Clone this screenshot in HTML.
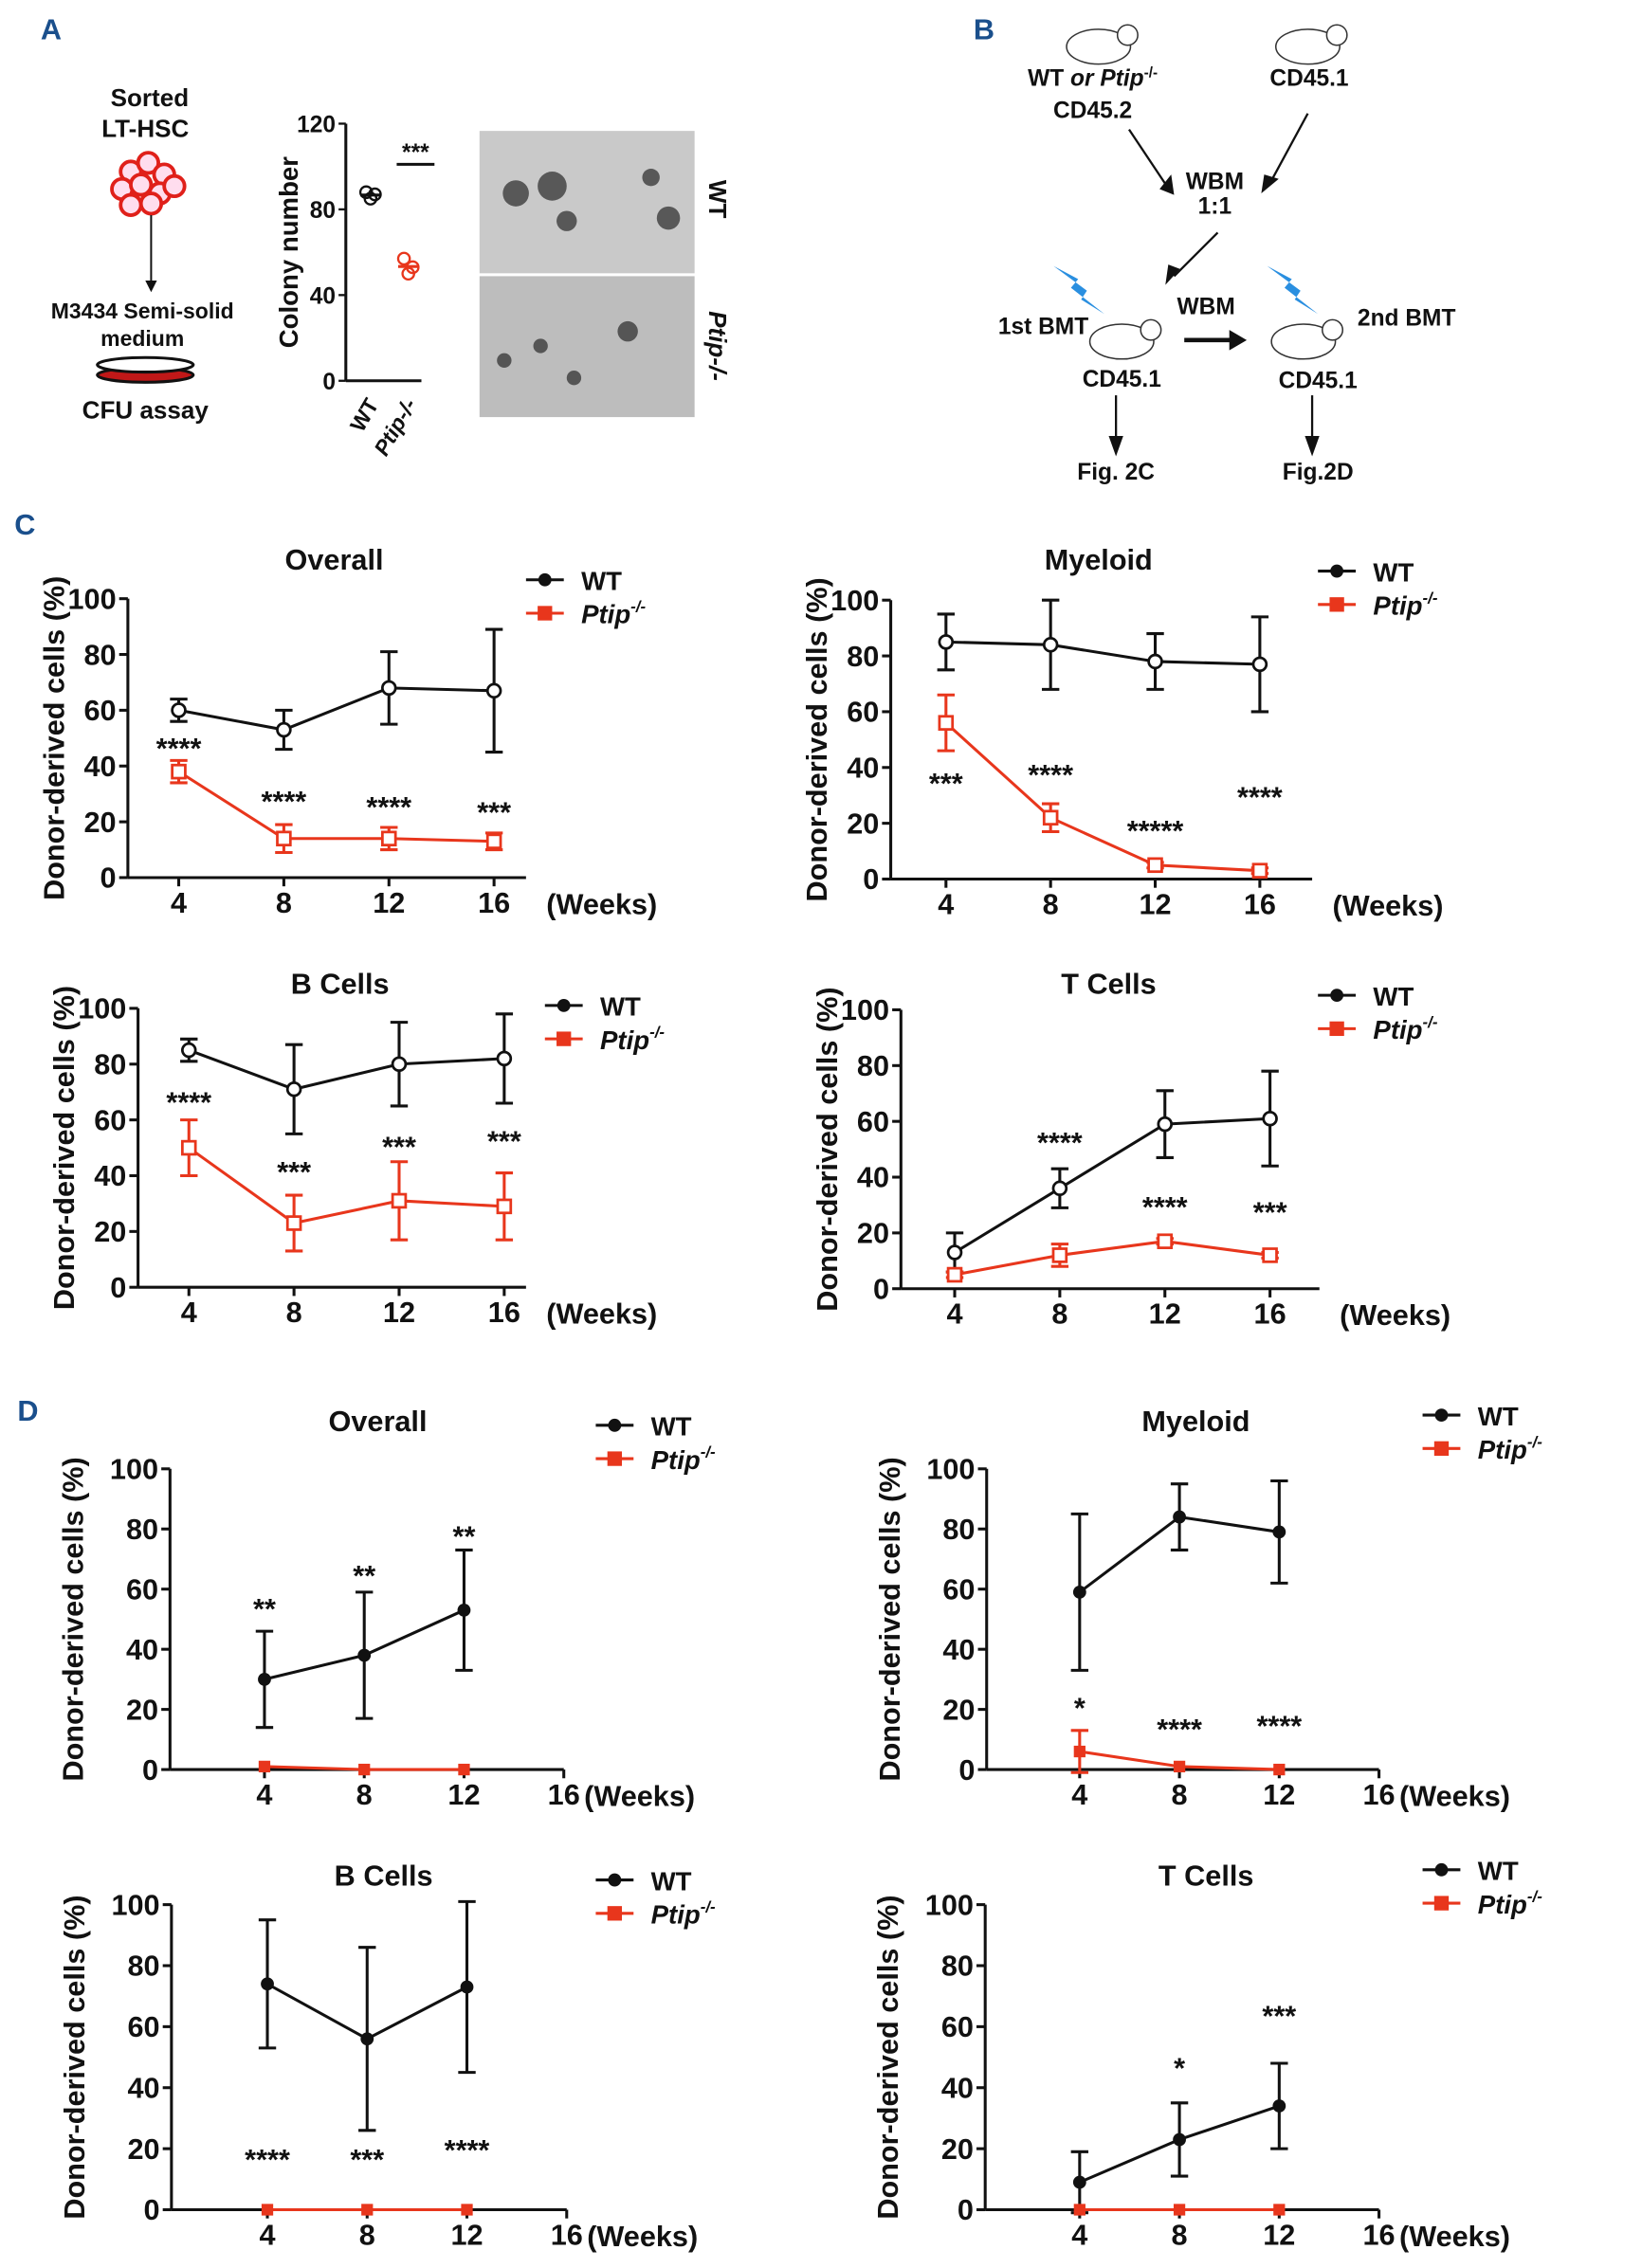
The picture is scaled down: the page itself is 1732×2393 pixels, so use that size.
<!DOCTYPE html>
<html><head><meta charset="utf-8"><style>
html,body{margin:0;padding:0;background:#fff}
svg{display:block}
text{font-family:"Liberation Sans Narrow","Liberation Sans",sans-serif;font-weight:bold;fill:#111}
</style></head><body>
<svg id="fig" width="1732" height="2393" viewBox="0 0 1130 1561" xmlns="http://www.w3.org/2000/svg">
<!-- Panel A -->
<g>
<text x="28" y="27" font-size="20" style="fill:#1a4f8c">A</text>
<text x="103" y="73" font-size="17" text-anchor="middle">Sorted</text>
<text x="100" y="94" font-size="17" text-anchor="middle">LT-HSC</text>
<g fill="#fde" stroke="#e0201a" stroke-width="2.5">
<circle cx="90" cy="118" r="7"/><circle cx="102" cy="112" r="7"/><circle cx="113" cy="120" r="7"/><circle cx="84" cy="130" r="7"/><circle cx="97" cy="127" r="7"/><circle cx="110" cy="133" r="7"/><circle cx="120" cy="128" r="7"/><circle cx="90" cy="141" r="7"/><circle cx="104" cy="140" r="7"/>
</g>
<line x1="104" y1="148" x2="104" y2="195" stroke="#111" stroke-width="1.3"/>
<polygon points="100,193 108,193 104,201" fill="#111"/>
<text x="98" y="219" font-size="15" text-anchor="middle">M3434 Semi-solid</text>
<text x="98" y="238" font-size="15" text-anchor="middle">medium</text>
<ellipse cx="100" cy="258" rx="33" ry="5" fill="#c01818" stroke="#111" stroke-width="2"/>
<ellipse cx="100" cy="251" rx="33" ry="5" fill="#fff" stroke="#111" stroke-width="2"/>
<text x="100" y="288" font-size="17" text-anchor="middle">CFU assay</text>
<g id="colony"></g>
<rect x="330" y="90" width="148" height="98" fill="#c9c9c9"/>
<rect x="330" y="190" width="148" height="97" fill="#bdbdbd"/>
<g fill="#333" opacity="0.75"><circle cx="355" cy="133" r="9"/><circle cx="380" cy="128" r="10"/><circle cx="390" cy="152" r="7"/><circle cx="460" cy="150" r="8"/><circle cx="448" cy="122" r="6"/><circle cx="347" cy="248" r="5"/><circle cx="372" cy="238" r="5"/><circle cx="395" cy="260" r="5"/><circle cx="432" cy="228" r="7"/></g>
<text transform="translate(488,137) rotate(90)" font-size="17" text-anchor="middle">WT</text>
<text transform="translate(488,238) rotate(90)" font-size="17" font-style="italic" text-anchor="middle">Ptip-/-</text>
</g>
<!-- Panel B -->
<g>
<text x="670" y="27" font-size="20" style="fill:#1a4f8c">B</text>
<g fill="#fff" stroke="#333" stroke-width="1">
<ellipse cx="756" cy="32" rx="22" ry="12"/><circle cx="776" cy="24" r="7"/>
<ellipse cx="900" cy="32" rx="22" ry="12"/><circle cx="920" cy="24" r="7"/>
<ellipse cx="772" cy="235" rx="22" ry="12"/><circle cx="792" cy="227" r="7"/>
<ellipse cx="897" cy="235" rx="22" ry="12"/><circle cx="917" cy="227" r="7"/>
</g>
<polygon points="725,183 742,192 737,198 760,216 744,206 748,200" fill="#2a8fe0"/>
<polygon points="872,183 889,192 884,198 907,216 891,206 895,200" fill="#2a8fe0"/>
<text x="752" y="59" font-size="16" text-anchor="middle">WT <tspan font-style="italic">or Ptip</tspan><tspan font-size="10" dy="-6">-/-</tspan></text>
<text x="752" y="81" font-size="16" text-anchor="middle">CD45.2</text>
<text x="901" y="59" font-size="16" text-anchor="middle">CD45.1</text>
<text x="836" y="130" font-size="16" text-anchor="middle">WBM</text>
<text x="836" y="147" font-size="16" text-anchor="middle">1:1</text>
<text x="830" y="216" font-size="16" text-anchor="middle">WBM</text>
<text x="718" y="230" font-size="16" text-anchor="middle">1st BMT</text>
<text x="968" y="224" font-size="16" text-anchor="middle">2nd BMT</text>
<text x="772" y="266" font-size="16" text-anchor="middle">CD45.1</text>
<text x="907" y="267" font-size="16" text-anchor="middle">CD45.1</text>
<text x="768" y="330" font-size="16" text-anchor="middle">Fig. 2C</text>
<text x="907" y="330" font-size="16" text-anchor="middle">Fig.2D</text>
<g stroke="#111" stroke-width="1.5" fill="none">
<line x1="777" y1="89" x2="803" y2="128"/><line x1="900" y1="78" x2="874" y2="126"/><line x1="838" y1="160" x2="808" y2="190"/>
<line x1="815" y1="234" x2="850" y2="234" stroke-width="3"/><line x1="768" y1="272" x2="768" y2="305"/><line x1="903" y1="272" x2="903" y2="305"/>
</g>
<g fill="#111"><polygon points="798,130 808,134 806,120"/><polygon points="868,133 880,123 870,120"/><polygon points="802,196 812,185 804,182"/><polygon points="858,234 846,227 846,241"/><polygon points="763,300 773,300 768,314"/><polygon points="898,300 908,300 903,314"/></g>
</g>
<text x="10" y="368" font-size="20" style="fill:#1a4f8c">C</text>
<text x="12" y="978" font-size="20" style="fill:#1a4f8c">D</text>
<g id="charts"></g>
</svg>
<script>
// Colony data
const colonyCats = ["WT", "Ptip-/-"];
const colonyWT = [88, 85, 87];
const colonyKO = [57, 50, 53];
const colonyTicks = [0, 40, 80, 120];

// Panel C overall
const cOverallWeeks = [4, 8, 12, 16];
const cOverallWT = [60, 53, 68, 67];
const cOverallWTErr = [4, 7, 13, 22];
const cOverallKO = [38, 14, 14, 13];
const cOverallKOErr = [4, 5, 4, 3];
const cOverallStars = ["****", "****", "****", "***"];
const cOverallStarLvl = [48, 29, 27, 25];
// Panel C myeloid
const cMyeWT = [85, 84, 78, 77];
const cMyeWTErr = [10, 16, 10, 17];
const cMyeKO = [56, 22, 5, 3];
const cMyeKOErr = [10, 5, 1, 1];
const cMyeStars = ["***", "****", "*****", "****"];
const cMyeStarLvl = [36, 39, 19, 31];
// Panel C B cells
const cBWT = [85, 71, 80, 82];
const cBWTErr = [4, 16, 15, 16];
const cBKO = [50, 23, 31, 29];
const cBKOErr = [10, 10, 14, 12];
const cBStars = ["****", "***", "***", "***"];
const cBStarLvl = [68, 43, 52, 54];
// Panel C T cells
const cTWT = [13, 36, 59, 61];
const cTWTErr = [7, 7, 12, 17];
const cTKO = [5, 12, 17, 12];
const cTKOErr = [1, 4, 1, 1];
const cTStars = ["", "****", "****", "***"];
const cTStarLvl = [0, 54, 31, 29];
// Panel D
const dWeeks = [4, 8, 12];
const dOverallWT = [30, 38, 53];
const dOverallWTErr = [16, 21, 20];
const dOverallKO = [1, 0, 0];
const dOverallStars = ["**", "**", "**"];
const dOverallStarLvl = [55, 66, 79];
const dMyeWT = [59, 84, 79];
const dMyeWTErr = [26, 11, 17];
const dMyeKO = [6, 1, 0];
const dMyeKOErr = [7, 0, 0];
const dMyeStars = ["*", "****", "****"];
const dMyeStarLvl = [22, 15, 16];
const dBWT = [74, 56, 73];
const dBWTErr = [21, 30, 28];
const dBKO = [0, 0, 0];
const dBStars = ["****", "***", "****"];
const dBStarLvl = [18, 18, 21];
const dTWT = [9, 23, 34];
const dTWTErr = [10, 12, 14];
const dTKO = [0, 0, 0];
const dTStars = ["", "*", "***"];
const dTStarLvl = [0, 48, 65];
const yTicks = [0, 20, 40, 60, 80, 100];
const xTicksFull = [4, 8, 12, 16];

const NS = "http://www.w3.org/2000/svg";
function mk(parent, tag, attrs, text) {
  const e = document.createElementNS(NS, tag);
  for (const k in attrs) e.setAttribute(k, attrs[k]);
  if (text !== undefined) e.textContent = text;
  parent.appendChild(e);
  return e;
}
const RED = "#e8361c";

function chart(c) {
  const root = document.getElementById("charts");
  const g = mk(root, "g", {});
  
  
  const sy = v => c.y0 - (c.y0 - c.y100) * v / 100;
  const sx = w => c.x4 + (c.x16 - c.x4) * (w - 4) / 12;
  mk(g, "line", {x1: c.ax, y1: c.y100, x2: c.ax, y2: c.y0, stroke: "#111", "stroke-width": 2});
  mk(g, "line", {x1: c.ax, y1: c.y0, x2: c.axEnd, y2: c.y0, stroke: "#111", "stroke-width": 2});
  yTicks.forEach(t => {
    mk(g, "line", {x1: c.ax - 6, y1: sy(t), x2: c.ax, y2: sy(t), stroke: "#111", "stroke-width": 2});
    const tl = mk(g, "text", {x: c.ax - 8, y: sy(t) + 7, "font-size": 20, "text-anchor": "end"}, t);
    
    
  });
  xTicksFull.forEach(t => {
    mk(g, "line", {x1: sx(t), y1: c.y0, x2: sx(t), y2: c.y0 + 6, stroke: "#111", "stroke-width": 2});
    const tl = mk(g, "text", {x: sx(t), y: c.y0 + 24, "font-size": 20, "text-anchor": "middle"}, t);
    
    
  });
  const wk = mk(g, "text", {x: c.axEnd + 14, y: c.y0 + 25, "font-size": 20}, "(Weeks)");
  
  
  const yl = mk(g, "text", {transform: `translate(${c.ax - (c.filled ? 60 : 44)},${(c.y0 + c.y100) / 2}) rotate(-90)`, "font-size": 20, "text-anchor": "middle"}, "Donor-derived cells (%)");
  
  
  const ti = mk(g, "text", {x: c.tx, y: c.ty, "font-size": 20, "text-anchor": "middle"}, c.title);
  
  
  // legend
  mk(g, "line", {x1: c.lx, y1: c.ly, x2: c.lx + 26, y2: c.ly, stroke: "#111", "stroke-width": 2});
  mk(g, "circle", {cx: c.lx + 13, cy: c.ly, r: 4.5, fill: "#111"});
  const l1 = mk(g, "text", {x: c.lx + 38, y: c.ly + 7, "font-size": 18}, "WT");
  
  
  mk(g, "line", {x1: c.lx, y1: c.ly + 23, x2: c.lx + 26, y2: c.ly + 23, stroke: RED, "stroke-width": 2});
  mk(g, "rect", {x: c.lx + 8, y: c.ly + 18, width: 10, height: 10, fill: RED});
  const l2 = mk(g, "text", {x: c.lx + 38, y: c.ly + 30, "font-size": 18, "font-style": "italic"});
  
  
  mk(l2, "tspan", {}, "Ptip");
  mk(l2, "tspan", {"font-size": 11, dy: -8}, "-/-");
  function series(vals, errs, col, marker, nm) {
    const s = mk(g, "g", {});
    
    
    const pts = vals.map((v, i) => sx(c.weeks[i]) + "," + sy(v)).join(" ");
    mk(s, "polyline", {points: pts, fill: "none", stroke: col, "stroke-width": 2});
    vals.forEach((v, i) => {
      const x = sx(c.weeks[i]);
      const e = errs ? errs[i] : 0;
      if (e > 0) {
        mk(s, "line", {x1: x, y1: sy(v - e), x2: x, y2: sy(v + e), stroke: col, "stroke-width": 2});
        mk(s, "line", {x1: x - 6, y1: sy(v + e), x2: x + 6, y2: sy(v + e), stroke: col, "stroke-width": 2});
        mk(s, "line", {x1: x - 6, y1: sy(v - e), x2: x + 6, y2: sy(v - e), stroke: col, "stroke-width": 2});
      }
      if (marker === "oc") mk(s, "circle", {cx: x, cy: sy(v), r: 4.5, fill: "#fff", stroke: col, "stroke-width": 1.8});
      else if (marker === "os") mk(s, "rect", {x: x - 4.5, y: sy(v) - 4.5, width: 9, height: 9, fill: "#fff", stroke: col, "stroke-width": 1.8});
      else if (marker === "fc") mk(s, "circle", {cx: x, cy: sy(v), r: 4.5, fill: col});
      else mk(s, "rect", {x: x - 4, y: sy(v) - 4, width: 8, height: 8, fill: col});
    });
  }
  series(c.wt, c.wtErr, "#111", c.filled ? "fc" : "oc", "wt-series");
  series(c.ko, c.koErr, RED, c.filled ? "fs" : "os", "ptip-series");
  c.stars.forEach((s, i) => {
    if (!s) return;
    const st = mk(g, "text", {x: sx(c.weeks[i]), y: sy(c.starLvl[i]) + 10, "font-size": 20, "text-anchor": "middle"}, s);
    
    
  });
}

chart({name: "c-overall-chart", title: "Overall", tx: 230, ty: 392, ax: 88, axEnd: 362, y0: 604, y100: 412, x4: 123, x16: 340, lx: 362, ly: 399, weeks: cOverallWeeks, wt: cOverallWT, wtErr: cOverallWTErr, ko: cOverallKO, koErr: cOverallKOErr, stars: cOverallStars, starLvl: cOverallStarLvl});
chart({name: "c-myeloid-chart", title: "Myeloid", tx: 756, ty: 392, ax: 613, axEnd: 903, y0: 605, y100: 413, x4: 651, x16: 867, lx: 907, ly: 393, weeks: cOverallWeeks, wt: cMyeWT, wtErr: cMyeWTErr, ko: cMyeKO, koErr: cMyeKOErr, stars: cMyeStars, starLvl: cMyeStarLvl});
chart({name: "c-bcells-chart", title: "B Cells", tx: 234, ty: 684, ax: 95, axEnd: 362, y0: 886, y100: 694, x4: 130, x16: 347, lx: 375, ly: 692, weeks: cOverallWeeks, wt: cBWT, wtErr: cBWTErr, ko: cBKO, koErr: cBKOErr, stars: cBStars, starLvl: cBStarLvl});
chart({name: "c-tcells-chart", title: "T Cells", tx: 763, ty: 684, ax: 620, axEnd: 908, y0: 887, y100: 695, x4: 657, x16: 874, lx: 907, ly: 685, weeks: cOverallWeeks, wt: cTWT, wtErr: cTWTErr, ko: cTKO, koErr: cTKOErr, stars: cTStars, starLvl: cTStarLvl});
chart({name: "d-overall-chart", filled: true, title: "Overall", tx: 260, ty: 985, ax: 117, axEnd: 388, y0: 1218, y100: 1011, x4: 182, x16: 388, lx: 410, ly: 981, weeks: dWeeks, wt: dOverallWT, wtErr: dOverallWTErr, ko: dOverallKO, koErr: null, stars: dOverallStars, starLvl: dOverallStarLvl});
chart({name: "d-myeloid-chart", filled: true, title: "Myeloid", tx: 823, ty: 985, ax: 679, axEnd: 949, y0: 1218, y100: 1011, x4: 743, x16: 949, lx: 979, ly: 974, weeks: dWeeks, wt: dMyeWT, wtErr: dMyeWTErr, ko: dMyeKO, koErr: dMyeKOErr, stars: dMyeStars, starLvl: dMyeStarLvl});
chart({name: "d-bcells-chart", filled: true, title: "B Cells", tx: 264, ty: 1298, ax: 118, axEnd: 390, y0: 1521, y100: 1311, x4: 184, x16: 390, lx: 410, ly: 1294, weeks: dWeeks, wt: dBWT, wtErr: dBWTErr, ko: dBKO, koErr: null, stars: dBStars, starLvl: dBStarLvl});
chart({name: "d-tcells-chart", filled: true, title: "T Cells", tx: 830, ty: 1298, ax: 678, axEnd: 949, y0: 1521, y100: 1311, x4: 743, x16: 949, lx: 979, ly: 1287, weeks: dWeeks, wt: dTWT, wtErr: dTWTErr, ko: dTKO, koErr: null, stars: dTStars, starLvl: dTStarLvl});

// colony chart
(function () {
  const g = document.getElementById("colony");
  const y0 = 262, y120 = 85, ax = 238;
  const sy = v => y0 - (y0 - y120) * v / 120;
  mk(g, "line", {x1: ax, y1: y120, x2: ax, y2: y0, stroke: "#111", "stroke-width": 2});
  mk(g, "line", {x1: ax, y1: y0, x2: 290, y2: y0, stroke: "#111", "stroke-width": 2});
  colonyTicks.forEach(t => {
    mk(g, "line", {x1: ax - 5, y1: sy(t), x2: ax, y2: sy(t), stroke: "#111", "stroke-width": 1.5});
    const tl = mk(g, "text", {x: ax - 7, y: sy(t) + 6, "font-size": 16, "text-anchor": "end"}, t);
    
    
  });
  const yl = mk(g, "text", {transform: `translate(205,${(y0 + y120) / 2}) rotate(-90)`, "font-size": 18, "text-anchor": "middle"}, "Colony number");
  
  
  const xs = [255, 281];
  colonyCats.forEach((cat, i) => {
    const t = mk(g, "text", {transform: `translate(${xs[i] + 6},${y0 + 16}) rotate(-60)`, "font-size": 15, "text-anchor": "end", "font-style": i ? "italic" : "normal"}, cat);
    
    
  });
  [colonyWT, colonyKO].forEach((arr, i) => {
    const col = i ? RED : "#111";
    const mean = arr.reduce((a, b) => a + b, 0) / arr.length;
    arr.forEach((v, j) => mk(g, "circle", {cx: xs[i] + (j - 1) * 3, cy: sy(v), r: 4, fill: "none", stroke: col, "stroke-width": 1.5}));
    mk(g, "line", {x1: xs[i] - 7, y1: sy(mean), x2: xs[i] + 7, y2: sy(mean), stroke: col, "stroke-width": 2});
  });
  mk(g, "line", {x1: 273, y1: 113, x2: 299, y2: 113, stroke: "#111", "stroke-width": 2});
  const st = mk(g, "text", {x: 286, y: 110, "font-size": 16, "text-anchor": "middle"}, "***");
  
  
})();
</script>
</body></html>
